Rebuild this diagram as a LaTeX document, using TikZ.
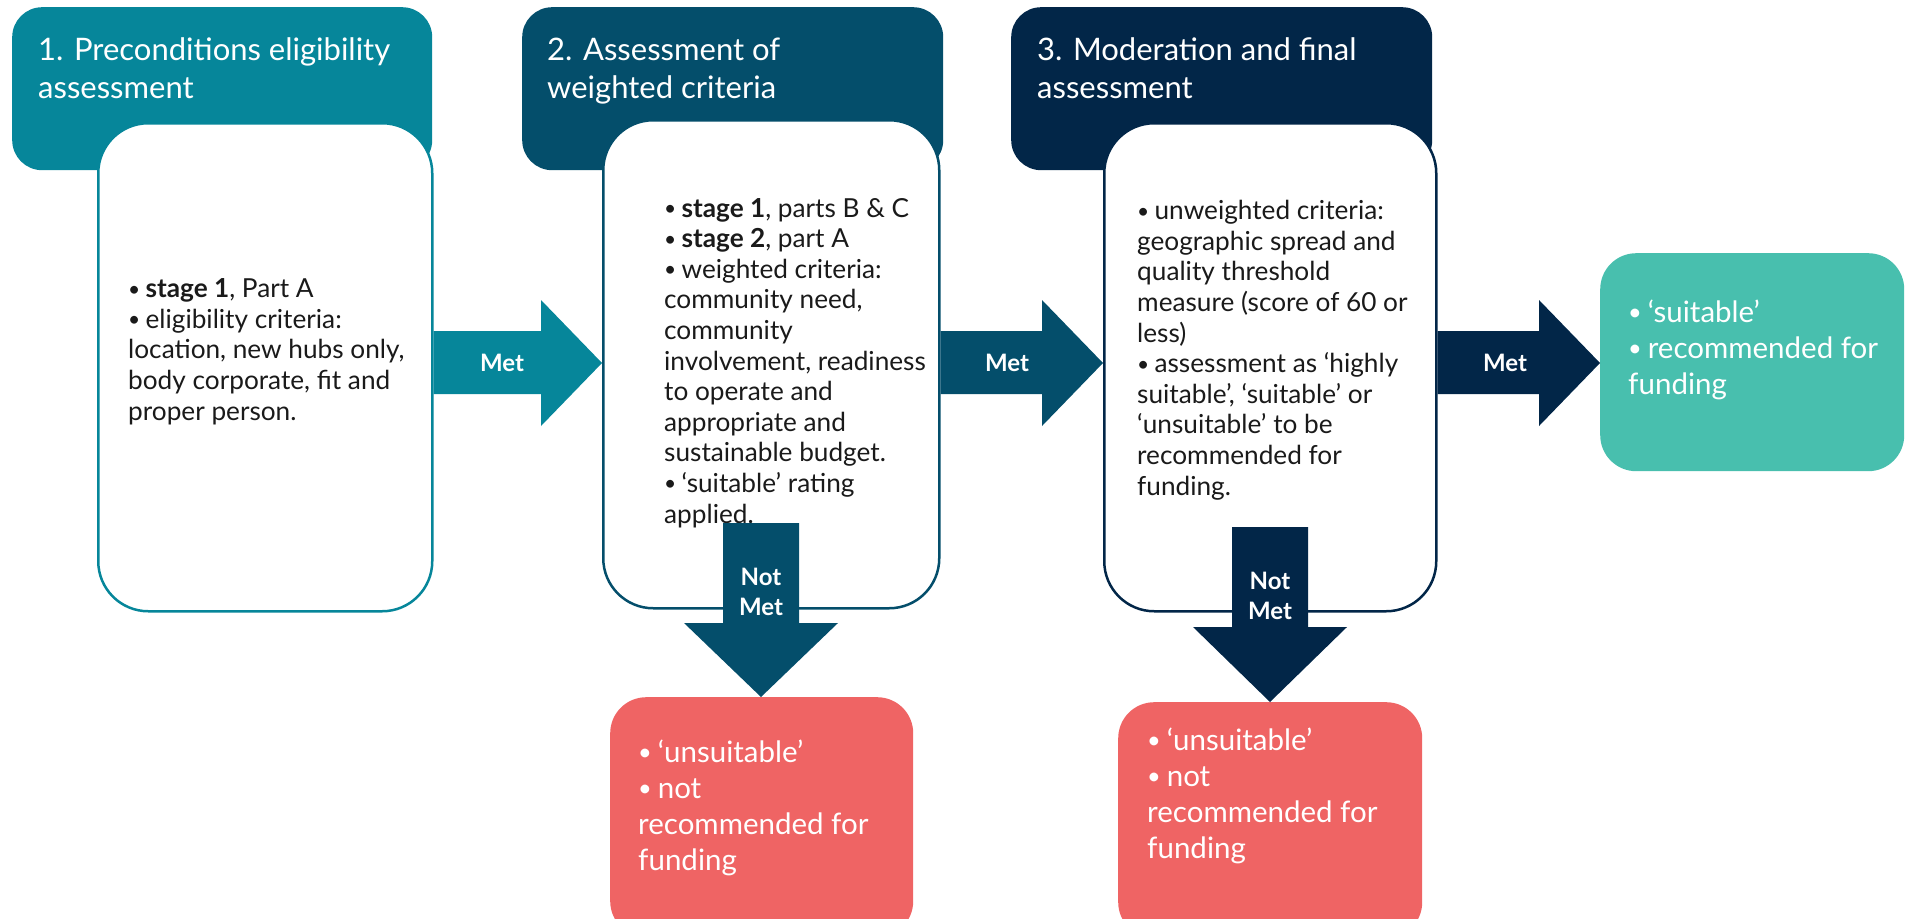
\documentclass[tikz,border=0pt]{standalone}
\usepackage{graphicx}
\usepackage{fontspec}
\setmainfont{Lato}
\usetikzlibrary{calc}
\definecolor{cA}{HTML}{06869A}
\definecolor{cB}{HTML}{044E6B}
\definecolor{cC}{HTML}{022648}
\definecolor{cG}{HTML}{48BFAE}
\definecolor{cR}{HTML}{EF6464}
\definecolor{txt}{HTML}{1A1A1A}
\newcommand\bu{\raisebox{0.06em}{\scalebox{0.8}{•}}\hspace{0.2em}}
\begin{document}
\begin{tikzpicture}[x=1pt,y=-1pt,
  header/.style={fill=#1, draw=none, rounded corners=30pt, anchor=north west, inner sep=0pt},
  whitebox/.style={fill=white, draw=#1, line width=2.5pt, rounded corners=50pt, anchor=north west, inner sep=0pt},
  colbox/.style={fill=#1, draw=none, rounded corners=36pt, anchor=north west, inner sep=0pt},
  title/.style={text=white, align=left, anchor=base west, inner sep=0pt, font=\fontsize{31}{38}\selectfont},
  body/.style={text=txt, align=left, anchor=base west, inner sep=0pt, font=\fontsize{26.2}{30.6}\selectfont},
  coltext/.style={text=white, align=left, anchor=base west, inner sep=0pt, font=\fontsize{29.5}{36}\selectfont},
  lbl/.style={text=white, align=center, inner sep=0pt, font=\bfseries\fontsize{24}{30}\selectfont}
]
\useasboundingbox (0,0) rectangle (1905,918);

% headers
\node[header=cA, minimum width=420pt, minimum height=163pt] (h1) at (12,7) {};
\node[header=cB, minimum width=421pt, minimum height=163pt] (h2) at (522,7) {};
\node[header=cC, minimum width=421pt, minimum height=163pt] (h3) at (1011,7) {};
\node[title] (ht1) at (38,98) {1. Preconditions eligibility\\assessment};
\node[title] (ht2) at (547,98) {2. Assessment of\\weighted criteria};
\node[title] (ht3) at (1037,98) {3. Moderation and final\\assessment};

% white boxes
\node[whitebox=cA, minimum width=334pt, minimum height=488pt] (b1) at (97,122) {};
\node[whitebox=cB, minimum width=336pt, minimum height=488pt] (b2) at (602,119) {};
\node[whitebox=cC, minimum width=332pt, minimum height=488pt] (b3) at (1103,122) {};

\node[body] (t1) at (128,420) {\bu\textbf{stage 1}, Part A\\\bu eligibility criteria:\\location, new hubs only,\\body corporate, fit and\\proper person.};
\node[body] (t2) at (664,523) {\bu\textbf{stage 1}, parts B \& C\\\bu\textbf{stage 2}, part A\\\bu weighted criteria:\\community need,\\community\\involvement, readiness\\to operate and\\appropriate and\\sustainable budget.\\\bu ‘suitable’ rating\\applied.};
\node[body] (t3) at (1137,495) {\bu unweighted criteria:\\geographic spread and\\quality threshold\\measure (score of 60 or\\less)\\\bu assessment as ‘highly\\suitable’, ‘suitable’ or\\‘unsuitable’ to be\\recommended for\\funding.};

% outcome boxes
\node[colbox=cG, minimum width=304pt, minimum height=218pt] (g) at (1600,253) {};
\node[colbox=cR, minimum width=303pt, minimum height=240pt] (r2) at (610,697) {};
\node[colbox=cR, minimum width=304pt, minimum height=236pt] (r3) at (1118,702) {};
\node[coltext] (gt) at (1628,394) {\bu‘suitable’\\\bu recommended for\\funding};
\node[coltext] (rt2) at (638,870) {\bu‘unsuitable’\\\bu not\\recommended for\\funding};
\node[coltext] (rt3) at (1147,858) {\bu‘unsuitable’\\\bu not\\recommended for\\funding};

% Met arrows
\fill[cA] (b1.east |- 0,331) -- (541,331) -- (541,300) -- (b2.west |- 0,363) -- (541,426) -- (541,394) -- (b1.east |- 0,394) -- cycle;
\fill[cB] (b2.east |- 0,331) -- (1042,331) -- (1042,300) -- (b3.west |- 0,363) -- (1042,426) -- (1042,394) -- (b2.east |- 0,394) -- cycle;
\fill[cC] (b3.east |- 0,331) -- (1539,331) -- (1539,300) -- (g.west |- 0,363) -- (1539,426) -- (1539,394) -- (b3.east |- 0,394) -- cycle;
\node[lbl] (m1) at (502,363) {Met};
\node[lbl] (m2) at (1007,363) {Met};
\node[lbl] (m3) at (1505,363) {Met};

% Not Met arrows
\fill[cB] (723,523) -- (799,523) -- (799,623) -- (838,623) -- (r2.north -| 761,0) -- (684,623) -- (723,623) -- cycle;
\fill[cC] (1232,527) -- (1308,527) -- (1308,627) -- (1347,627) -- (r3.north -| 1270,0) -- (1193,627) -- (1232,627) -- cycle;
\node[lbl] (n2) at (761,592) {Not\\Met};
\node[lbl] (n3) at (1270,596) {Not\\Met};
\end{tikzpicture}
\end{document}
